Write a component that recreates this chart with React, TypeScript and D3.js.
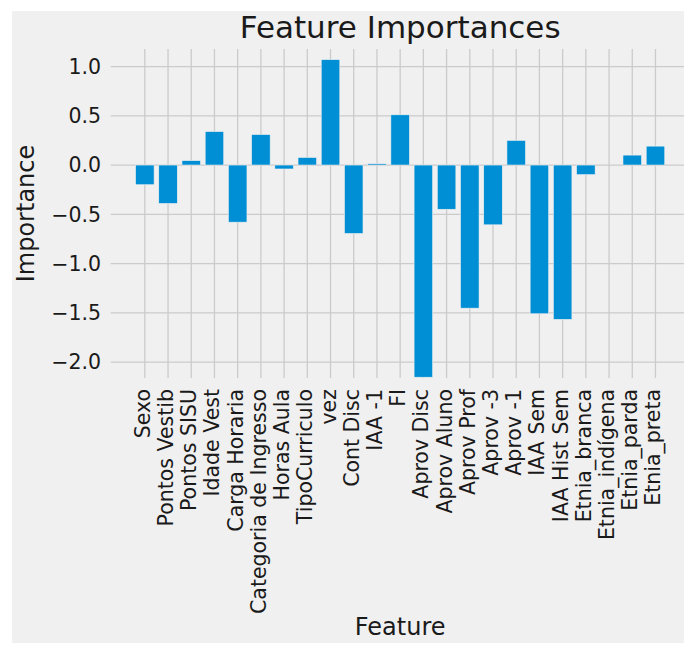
import React, { useEffect, useRef } from "react";
import * as d3 from "d3";

const features = [
  "Sexo",
  "Pontos Vestib",
  "Pontos SISU",
  "Idade Vest",
  "Carga Horaria",
  "Categoria de Ingresso",
  "Horas Aula",
  "TipoCurriculo",
  "vez",
  "Cont Disc",
  "IAA -1",
  "FI",
  "Aprov Disc",
  "Aprov Aluno",
  "Aprov Prof",
  "Aprov -3",
  "Aprov -1",
  "IAA Sem",
  "IAA Hist Sem",
  "Etnia_branca",
  "Etnia_indígena",
  "Etnia_parda",
  "Etnia_preta",
];

const importances = [
  -0.2, -0.39, 0.045, 0.34, -0.58, 0.31, -0.04, 0.077, 1.07, -0.695, 0.013,
  0.51, -2.154, -0.449, -1.453, -0.607, 0.25, -1.51, -1.567, -0.098, 0, 0.101,
  0.192,
];

const yTicks = [1.0, 0.5, 0.0, -0.5, -1.0, -1.5, -2.0];

const W = 695;
const H = 654;
const BG = { left: 12, top: 11, right: 684, bottom: 643 };
const PLOT = { left: 110.7, right: 689.6, top: 49, bottom: 378 };
const FONT = "DejaVu Sans, sans-serif";

export default function App() {
  const svgRef = useRef<SVGSVGElement | null>(null);

  useEffect(() => {
    const svg = d3.select(svgRef.current);
    svg.selectAll("*").remove();

    svg.append("rect").attr("width", W).attr("height", H).attr("fill", "#fff");

    svg
      .append("clipPath")
      .attr("id", "figclip")
      .append("rect")
      .attr("x", BG.left)
      .attr("y", BG.top)
      .attr("width", BG.right - BG.left)
      .attr("height", BG.bottom - BG.top);

    const fig = svg.append("g").attr("clip-path", "url(#figclip)");

    fig
      .append("rect")
      .attr("x", BG.left)
      .attr("y", BG.top)
      .attr("width", BG.right - BG.left)
      .attr("height", BG.bottom - BG.top)
      .attr("fill", "#f0f0f0");

    // category index -> pixel
    const n = features.length;
    const x = d3
      .scaleLinear()
      .domain([-1.47, n - 1 + 1.47])
      .range([PLOT.left, PLOT.right]);
    const step = x(1) - x(0);

    const y = d3
      .scaleLinear()
      .domain([-2.162, 1.178])
      .range([PLOT.bottom, PLOT.top]);

    const grid = fig.append("g").attr("stroke", "#cbcbcb").attr("stroke-width", 1.3);

    grid
      .selectAll("line.h")
      .data(yTicks)
      .join("line")
      .attr("x1", PLOT.left)
      .attr("x2", PLOT.right)
      .attr("y1", (d) => y(d))
      .attr("y2", (d) => y(d));

    grid
      .selectAll("line.v")
      .data(features)
      .join("line")
      .attr("x1", (_, i) => x(i))
      .attr("x2", (_, i) => x(i))
      .attr("y1", PLOT.top)
      .attr("y2", PLOT.bottom);

    fig
      .append("g")
      .selectAll("rect")
      .data(importances)
      .join("rect")
      .attr("x", (_, i) => x(i) - (step * 0.8) / 2)
      .attr("width", step * 0.8)
      .attr("y", (d) => y(Math.max(0, d)))
      .attr("height", (d) => Math.abs(y(d) - y(0)))
      .attr("fill", "#008fd5")
      .attr("stroke", "#f0f0f0")
      .attr("stroke-width", 0.6);

    const fmt = d3.format(".1f");

    fig
      .append("g")
      .selectAll("text")
      .data(yTicks)
      .join("text")
      .attr("x", 101)
      .attr("y", (d) => y(d))
      .attr("dy", "0.36em")
      .attr("text-anchor", "end")
      .attr("font-family", FONT)
      .attr("font-size", 20.5)
      .attr("fill", "#1a1a1a")
      .text((d) => fmt(d).replace("-", "\u2212"));

    fig
      .append("g")
      .selectAll("text")
      .data(features)
      .join("text")
      .attr("transform", (_, i) => `translate(${x(i) + 5},389) rotate(-90)`)
      .attr("text-anchor", "end")
      .attr("font-family", FONT)
      .attr("font-size", 20.5)
      .attr("fill", "#1a1a1a")
      .text((d) => d);

    fig
      .append("text")
      .attr("transform", `translate(33.5,${(PLOT.top + PLOT.bottom) / 2}) rotate(-90)`)
      .attr("text-anchor", "middle")
      .attr("font-family", FONT)
      .attr("font-size", 24)
      .attr("fill", "#1a1a1a")
      .text("Importance");

    fig
      .append("text")
      .attr("x", (PLOT.left + PLOT.right) / 2)
      .attr("y", 635)
      .attr("text-anchor", "middle")
      .attr("font-family", FONT)
      .attr("font-size", 24)
      .attr("fill", "#1a1a1a")
      .text("Feature");

    fig
      .append("text")
      .attr("x", (PLOT.left + PLOT.right) / 2)
      .attr("y", 38)
      .attr("text-anchor", "middle")
      .attr("font-family", FONT)
      .attr("font-size", 31)
      .attr("fill", "#1a1a1a")
      .text("Feature Importances");
  }, []);

  return (
    <svg
      ref={svgRef}
      width={W}
      height={H}
      style={{ position: "absolute", left: 0, top: 0 }}
    />
  );
}
